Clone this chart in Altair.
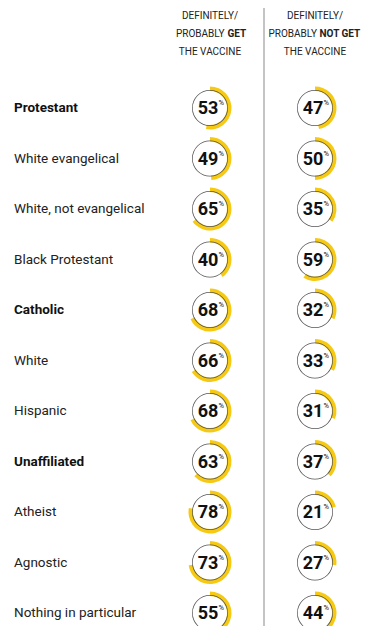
import altair as alt
import pandas as pd

categories = ["Protestant", "White evangelical", "White, not evangelical", "Black Protestant",
              "Catholic", "White", "Hispanic", "Unaffiliated", "Atheist", "Agnostic",
              "Nothing in particular"]
get_pct = [53, 49, 65, 40, 68, 66, 68, 63, 78, 73, 55]
not_pct = [47, 50, 35, 59, 32, 33, 31, 37, 21, 27, 44]
bold_cats = ["Protestant", "Catholic", "Unaffiliated"]
col_keys = ["get", "not"]
header_line1 = ["DEFINITELY/", "DEFINITELY/"]
header_plain2 = ["PROBABLY", "PROBABLY"]
header_bold2 = ["GET", "NOT GET"]
header_line3 = ["THE VACCINE", "THE VACCINE"]

YELLOW = "#F6C913"
FONT = "Roboto"

rows = []
for c, g, n in zip(categories, get_pct, not_pct):
    rows.append(dict(cat=c, col="get", value=g, start=0, full=100))
    rows.append(dict(cat=c, col="not", value=n, start=0, full=100))
df = pd.DataFrame(rows)

lab = pd.DataFrame(dict(cat=categories, bold=[c in bold_cats for c in categories]))

xs = alt.X("col:N", scale=alt.Scale(type="point", domain=col_keys, range=[202, 307], padding=0), axis=None)
ys = alt.Y("cat:N", scale=alt.Scale(type="point", domain=categories, range=[100, 605], padding=0), axis=None)
th_scale = alt.Scale(domain=[0, 100], range=[0, 6.283185307])

base = alt.Chart(df)

arcs = base.mark_arc(radius=21.5, radius2=17, color=YELLOW).encode(
    x=xs, y=ys,
    theta=alt.Theta("start:Q", scale=th_scale),
    theta2="value:Q",
)
rings = base.mark_arc(radius=18, radius2=17.3, color="#555").encode(
    x=xs, y=ys,
    theta=alt.Theta("start:Q", scale=th_scale),
    theta2="full:Q",
)
nums = base.mark_text(font=FONT, fontSize=18, fontWeight="bold", color="#111", align="center",
                      baseline="middle", dx=-2, dy=1).encode(
    x=xs, y=ys, text="value:Q",
)
pcts = base.mark_text(font=FONT, fontSize=7.5, color="#111", align="left", baseline="middle",
                      dx=8.5, dy=-5).encode(
    x=xs, y=ys, text=alt.value("%"),
)

lab_base = alt.Chart(lab)
lab_bold = lab_base.transform_filter("datum.bold").mark_text(
    font=FONT, fontSize=13.5, fontWeight="bold", color="#111", align="left", baseline="middle"
).encode(x=alt.value(6), y=ys, text="cat:N")
lab_norm = lab_base.transform_filter("!datum.bold").mark_text(
    font=FONT, fontSize=13.5, color="#222", align="left", baseline="middle"
).encode(x=alt.value(6), y=ys, text="cat:N")

hdr = pd.DataFrame(dict(col=col_keys, l1=header_line1, p2=header_plain2, b2=header_bold2, l3=header_line3))
hx = alt.X("col:N", scale=alt.Scale(type="point", domain=col_keys, range=[203, 306], padding=0), axis=None)
hb = alt.Chart(hdr)
hstyle = dict(font=FONT, fontSize=10, color="#222", baseline="middle")
h1 = hb.mark_text(align="center", **hstyle).encode(x=hx, y=alt.value(7.5), text="l1:N")
h3 = hb.mark_text(align="center", **hstyle).encode(x=hx, y=alt.value(43.5), text="l3:N")
h2p_a = hb.transform_filter("datum.col == 'get'").mark_text(align="right", **hstyle).encode(
    x=alt.value(216.5), y=alt.value(25.5), text="p2:N")
h2b_a = hb.transform_filter("datum.col == 'get'").mark_text(align="left", fontWeight="bold", **hstyle).encode(
    x=alt.value(219.5), y=alt.value(25.5), text="b2:N")
h2p_b = hb.transform_filter("datum.col == 'not'").mark_text(align="right", **hstyle).encode(
    x=alt.value(309), y=alt.value(25.5), text="p2:N")
h2b_b = hb.transform_filter("datum.col == 'not'").mark_text(align="left", fontWeight="bold", **hstyle).encode(
    x=alt.value(311.5), y=alt.value(25.5), text="b2:N")

divider = alt.Chart(pd.DataFrame(dict(v=[0]))).mark_rule(color="#c4c4c4", strokeWidth=2).encode(
    x=alt.value(256), y=alt.value(-1), y2=alt.value(626))

chart = alt.layer(divider, arcs, rings, nums, pcts, lab_bold, lab_norm,
                  h1, h2p_a, h2b_a, h2p_b, h2b_b, h3).properties(
    width=354, height=618, autosize=alt.AutoSizeParams(type="none"), padding=0
).configure_view(stroke=None)

chart.save("out.html", embed_options={"renderer": "svg", "actions": False})
